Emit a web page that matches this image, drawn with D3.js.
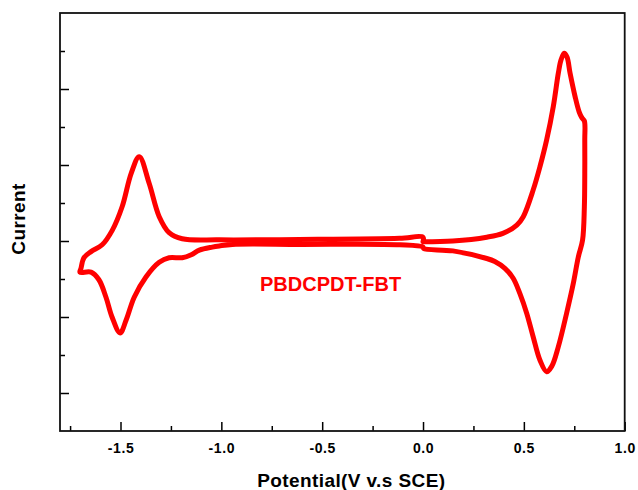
<!DOCTYPE html>
<html>
<head>
<meta charset="utf-8">
<script src="https://cdn.jsdelivr.net/npm/d3@7"></script>
<style>
  body { margin: 0; background: #fff; }
  text { font-family: Arial, "Liberation Sans", sans-serif; font-weight: bold; }
</style>
</head>
<body>
<div id="chart"></div>
<script>
// cyclic voltammogram (current in arbitrary units)
var potential = [
  // anodic scan 0 -> 0.8 V
  0.000, 0.148, 0.316, 0.396, 0.465, 0.497, 0.546, 0.580, 0.613, 0.646,
  0.671, 0.684, 0.700, 0.714, 0.729, 0.754, 0.774, 0.788, 0.800,
  // back 0.8 -> 0 V
  0.802, 0.802, 0.800, 0.791, 0.770, 0.745, 0.712, 0.671, 0.638, 0.613,
  0.580, 0.546, 0.514, 0.480, 0.447, 0.406, 0.356, 0.316, 0.148, 0.003,
  // cathodic scan 0 -> -1.7 V
  0.000, -0.114, -0.610, -0.945, -1.010, -1.045, -1.109, -1.149, -1.194, -1.259,
  -1.308, -1.373, -1.432, -1.472, -1.502, -1.542, -1.572, -1.607, -1.646, -1.701,
  // back -1.7 -> 0 V
  -1.696, -1.681, -1.646, -1.591, -1.541, -1.492, -1.447, -1.407, -1.358, -1.308,
  -1.259, -1.194, -1.010, -0.613, -0.116, 0.000, 0.000
];
var current = [
  -0.01, 0.00, 0.05, 0.10, 0.21, 0.32, 0.67, 0.98, 1.33, 1.77,
  2.21, 2.38, 2.47, 2.42, 2.21, 1.90, 1.70, 1.62, 1.58,
  1.33, 0.89, 0.45, 0.01, -0.21, -0.56, -0.95, -1.39, -1.65, -1.72,
  -1.57, -1.26, -0.95, -0.69, -0.49, -0.36, -0.27, -0.23, -0.13, -0.10,
  -0.08, -0.05, -0.045, -0.045, -0.065, -0.08, -0.12, -0.18, -0.22, -0.22,
  -0.28, -0.47, -0.74, -1.04, -1.21, -1.00, -0.74, -0.51, -0.41, -0.41,
  -0.36, -0.22, -0.14, -0.05, 0.14, 0.45, 0.89, 1.11, 0.76, 0.32,
  0.11, 0.03, 0.015, 0.02, 0.035, 0.05, -0.01
];

var xMajor = [-1.5, -1.0, -0.5, 0.0, 0.5, 1.0];
var xMinor = [-1.75, -1.25, -0.75, -0.25, 0.25, 0.75];
var yMajor = [-2, -1, 0, 1, 2];
var yMinor = [-1.5, -0.5, 0.5, 1.5, 2.5];
var sampleName = "PBDCPDT-FBT";

var width = 638,
  height = 490;
var margin = { top: 13, right: 13.3, bottom: 59, left: 60 };

var svg = d3
  .select("#chart")
  .append("svg")
  .attr("width", width)
  .attr("height", height);

var x = d3
  .scaleLinear()
  .domain([-1.8, 1.0])
  .range([margin.left, width - margin.right]);
var y = d3
  .scaleLinear()
  .domain([-2.5, 3.0])
  .range([height - margin.bottom, margin.top]);

var points = potential.map(function (v, i) {
  return [v, current[i]];
});

// axes, ticks point inwards
function addAxis(axis, transform) {
  var g = svg.append("g").attr("transform", transform).call(axis);
  g.select(".domain").remove();
  g.selectAll(".tick line").attr("stroke", "#000").attr("stroke-width", 1.5);
  return g;
}

var xAxis = addAxis(
  d3.axisBottom(x).tickValues(xMajor).tickSize(-9).tickPadding(12),
  "translate(0," + (height - margin.bottom) + ")"
);
xAxis
  .selectAll(".tick text")
  .style("font-size", "14px")
  .style("letter-spacing", "0.6px")
  .attr("fill", "#000")
  .text(function (d) {
    return d3.format(".1f")(d).replace("\u2212", "-");
  });
addAxis(
  d3.axisBottom(x).tickValues(xMinor).tickSize(-5).tickFormat(""),
  "translate(0," + (height - margin.bottom) + ")"
);
addAxis(
  d3.axisLeft(y).tickValues(yMajor).tickSize(-9).tickFormat(""),
  "translate(" + margin.left + ",0)"
);
addAxis(
  d3.axisLeft(y).tickValues(yMinor).tickSize(-5).tickFormat(""),
  "translate(" + margin.left + ",0)"
);

svg
  .append("rect")
  .attr("x", margin.left)
  .attr("y", margin.top)
  .attr("width", width - margin.left - margin.right)
  .attr("height", height - margin.top - margin.bottom)
  .attr("fill", "none")
  .attr("stroke", "#111")
  .attr("stroke-width", 1.8);

var line = d3
  .line()
  .x(function (d) {
    return x(d[0]);
  })
  .y(function (d) {
    return y(d[1]);
  })
  .curve(d3.curveCatmullRom.alpha(0.5));

svg
  .append("path")
  .datum(points)
  .attr("d", line)
  .attr("fill", "none")
  .attr("stroke", "#ff0000")
  .attr("stroke-width", 5)
  .attr("stroke-linejoin", "round")
  .attr("stroke-linecap", "round");

svg
  .append("text")
  .attr("x", 260)
  .attr("y", 290.5)
  .attr("font-size", "20px")
  .attr("fill", "#ff0000")
  .text(sampleName);

// axis titles
svg
  .append("text")
  .attr("x", (margin.left + width - margin.right) / 2 + 9)
  .attr("y", 486.5)
  .attr("text-anchor", "middle")
  .attr("font-size", "19px")
  .attr("letter-spacing", "0.4px")
  .text("Potential(V v.s SCE)");

svg
  .append("text")
  .attr("transform", "translate(25,219) rotate(-90)")
  .attr("text-anchor", "middle")
  .attr("font-size", "19px")
  .attr("letter-spacing", "0.4px")
  .text("Current");
</script>
</body>
</html>
